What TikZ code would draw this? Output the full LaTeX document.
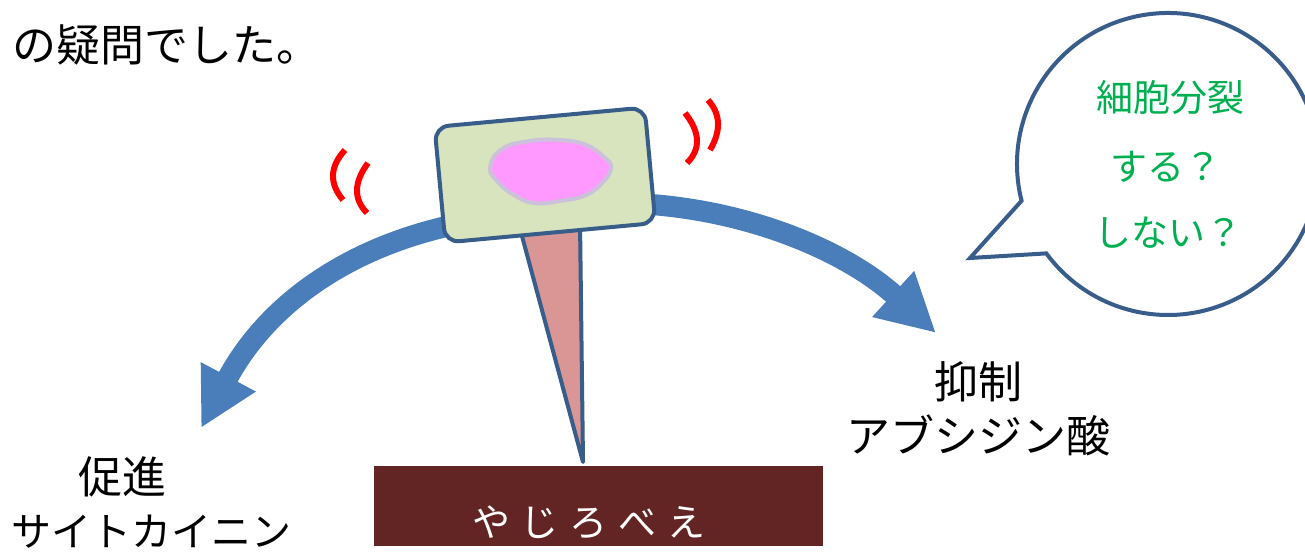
\documentclass[tikz,border=0pt]{standalone}
\usepackage{fontspec}
\newfontfamily\jpfont{Noto Sans CJK JP}
\usetikzlibrary{arrows.meta,calc,backgrounds}
\definecolor{signfill}{HTML}{D7E4BD}
\definecolor{outline}{HTML}{385D8A}
\definecolor{blobfill}{HTML}{FF99FF}
\definecolor{blobline}{HTML}{CCC1DA}
\definecolor{stickfill}{HTML}{D99694}
\definecolor{arrowblue}{HTML}{4A7EBB}
\definecolor{plaque}{HTML}{632523}
\definecolor{textgreen}{HTML}{00B050}
\begin{document}
\begin{tikzpicture}[x=1pt,y=-1pt,
  bigarrow/.style={draw=arrowblue, line width=21pt, -{Triangle[length=58pt,width=58pt]}},
  wave/.style={draw=red, line width=6pt},
  label/.style={font=\jpfont\fontsize{44}{53}\selectfont, inner sep=0pt},
  bubbletext/.style={font=\jpfont\fontsize{37}{44}\selectfont, text=textgreen, inner sep=0pt},
  signbox/.style={draw=outline, fill=signfill, line width=4pt, rounded corners=14pt,
    minimum width=211pt, minimum height=116pt, inner sep=0pt},
]
\useasboundingbox (0,0) rectangle (1305,555);
\clip (0,0) rectangle (1305,555);

% the sign on its stick
\node[signbox, rotate=5.3] (sign) at (545,175) {};

\begin{scope}[on background layer]
  % swing arrows behind the sign
  \coordinate (lstart) at (480,220);
  \coordinate (lend) at (201,428);
  \coordinate (rstart) at (620,203);
  \coordinate (rend) at (936,333);
  \draw[bigarrow] (lstart) .. controls (365,238) and (272,295) .. (lend);
  \draw[bigarrow] (rstart) .. controls (740,205) and (845,250) .. (rend);
  % stick
  \coordinate (tip) at (583,462);
  \draw[outline, fill=stickfill, line width=4pt, line join=round]
    (519,225) -- (tip) -- (580,222) -- cycle;
\end{scope}

% pink cell on the sign
\draw[draw=blobline, fill=blobfill, line width=4pt]
  plot[smooth cycle, tension=0.75] coordinates {
    (490,168) (502,149) (530,141) (560,140) (586,145) (605,158)
    (611,168) (603,182) (586,195) (560,201) (534,203) (514,195) (499,183)};

% shaking marks
\draw[wave] (345,150) .. controls (329.7,166.7) and (329,183.3) .. (343,200);
\draw[wave] (368,163) .. controls (353.7,182.3) and (353.3,199) .. (367,213);
\draw[wave] (685,113) .. controls (700.3,132.3) and (701,149) .. (687,163);
\draw[wave] (708,100) .. controls (720.7,114) and (721.3,130.7) .. (710,150);

% speech bubble
\coordinate (bc) at (1168,164);
\coordinate (btail) at (970,258);
\draw[outline, line width=4pt, fill=white, line join=miter]
  (btail) -- ($(bc)+(165.9:151)$) arc[start angle=165.9, end angle=503.7, radius=151] -- cycle;
\node[bubbletext] (q1) at (1170,98) {細胞分裂};
\node[bubbletext] (q2) at (1166,167) {する？};
\node[bubbletext] (q3) at (1168,233) {しない？};

% labels
\node[label, anchor=west] (question) at (12,45) {の疑問でした。};
\node[label] (inhibit) at (978,382) {抑制};
\node[label] (aba) at (978,435) {アブシジン酸};
\node[label] (promote) at (122,477) {促進};
\node[label, font=\jpfont\fontsize{40}{48}\selectfont] (cytokinin) at (151,532) {サイトカイニン};

% name plate
\node[fill=plaque, minimum width=449pt, minimum height=80pt, inner sep=0pt,
  anchor=north west] (plate) at (374,466) {};
\node[text=white, inner sep=0pt, font=\jpfont\fontsize{38}{44}\selectfont]
  (name) at (589,522) {や\hspace{11pt}じ\hspace{11pt}ろ\hspace{11pt}べ\hspace{11pt}え};
\end{tikzpicture}
\end{document}
